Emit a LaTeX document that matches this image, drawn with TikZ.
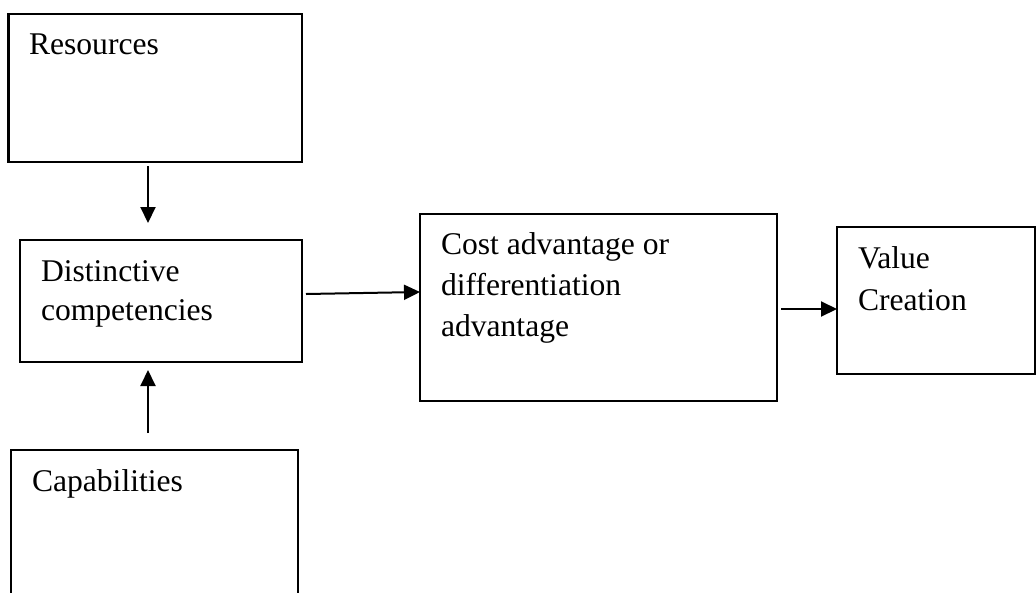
\documentclass[tikz,border=0pt]{standalone}
\usepackage{fontspec}
\setmainfont{Liberation Serif}
\usetikzlibrary{arrows.meta,calc}
\begin{document}
\begin{tikzpicture}[x=1pt,y=-1pt,
  box/.style={draw=black,line width=2.3pt,rectangle,anchor=north west,inner sep=0pt,outer sep=0pt},
  lbl/.style={anchor=base west,inner sep=0pt,outer sep=0pt,align=left,
    font=\fontsize{31.6}{39}\selectfont},
  conn/.style={line width=2pt,-{Triangle[length=16pt,width=15pt]}}]
\useasboundingbox (0,0) rectangle (1036,592);
\node[box,minimum width=293.5,minimum height=148] (res) at (8.5,14) {};
\node[box,minimum width=282,minimum height=122] (dc) at (20,240) {};
\node[box,minimum width=287,minimum height=200] (cap) at (11,450) {};
\node[box,minimum width=357,minimum height=187] (cost) at (420,214) {};
\node[box,minimum width=198,minimum height=147] (val) at (837,227) {};
\node[lbl] (rest) at ($(res.north west)+(20.5,40)$) {Resources};
\node[lbl] (dct) at ($(dc.north west)+(21,80)$) {Distinctive\\competencies};
\node[lbl] (capt) at ($(cap.north west)+(21,41)$) {Capabilities};
\node[lbl,font=\fontsize{31.6}{41}\selectfont] (costt) at ($(cost.north west)+(21,122)$) {Cost advantage or\\differentiation\\advantage};
\node[lbl,font=\fontsize{31.6}{42}\selectfont] (valt) at ($(val.north west)+(21,83)$) {Value\\Creation};
\draw[conn] ($(res.south west)+(139.5,4)$) -- ($(dc.north west)+(128,-17)$);
\draw[conn] ($(cap.north west)+(137,-17)$) -- ($(dc.south west)+(128,8)$);
\draw[conn] ($(dc.north east)+(4,54)$) -- ($(cost.north west)+(0,78)$);
\draw[conn] ($(cost.north east)+(4,95)$) -- ($(val.north west)+(0,82)$);
\end{tikzpicture}
\end{document}
